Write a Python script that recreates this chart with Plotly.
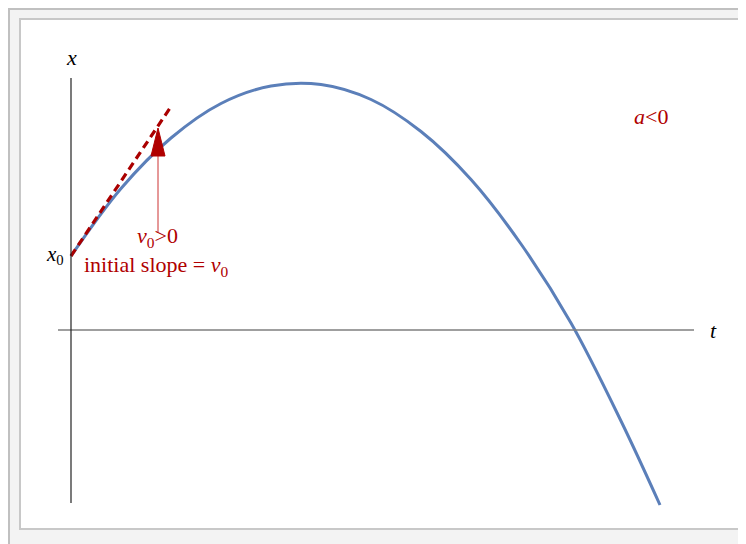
import plotly.graph_objects as go

# Position x(t) (t and x in arbitrary units)
t_vals = [0, 1, 2, 3, 4, 5, 6, 7, 8, 9, 10, 11, 11.78]
x_vals = [1.48, 2.83, 3.84, 4.53, 4.88, 4.91, 4.61, 3.97, 3.01, 1.72, 0.14, -1.82, -3.5]

# Initial-slope tangent line (dashed)
tan_t = [0, 1.98]
tan_x = [1.48, 4.44]

# Arrow (tail -> tip) marking v0 > 0
arrow_t = 1.74
arrow_tail = 1.96
arrow_base = 3.48
arrow_tip = 4.04

RED = "#b00000"
BLUE = "#5b7fb9"
FONT = "Liberation Serif"

W, H = 746, 544
OFF = 8  # page body margin offset

fig = go.Figure()

fig.add_trace(go.Scatter(x=t_vals, y=x_vals, mode="lines",
                         line=dict(color=BLUE, width=3, shape="spline", smoothing=1.0),
                         hoverinfo="skip"))
fig.add_trace(go.Scatter(x=tan_t, y=tan_x, mode="lines",
                         line=dict(color="#aa0000", width=3.2, dash="8px,5px"),
                         hoverinfo="skip"))


def px(xp):
    return (xp - OFF) / W


def py(yp):
    return 1 - (yp - OFF) / H


shapes = [
    # outer frame
    dict(type="rect", xref="paper", yref="paper", x0=px(9), y0=py(580), x1=px(780), y1=py(9),
         line=dict(color="#c0c0c0", width=2), fillcolor="#f3f3f3", layer="below"),
    # inner white panel
    dict(type="rect", xref="paper", yref="paper", x0=px(20), y0=py(529), x1=px(741), y1=py(19),
         line=dict(color="#c8c8c8", width=2), fillcolor="white", layer="below"),
    # t axis
    dict(type="line", x0=-0.26, x1=12.46, y0=0, y1=0, line=dict(color="#7f7f7f", width=1.5)),
    # x axis
    dict(type="line", x0=0, x1=0, y0=-3.46, y1=5.04, line=dict(color="#222222", width=1.2)),
    # arrow shaft
    dict(type="line", x0=arrow_t, x1=arrow_t, y0=arrow_tail, y1=arrow_base,
         line=dict(color="#cc3333", width=1)),
    # arrow head
    dict(type="path",
         path=f"M {arrow_t} {arrow_tip} L {arrow_t - 0.14} {arrow_base} L {arrow_t + 0.14} {arrow_base} Z",
         fillcolor="#b00000", line=dict(color="#b00000", width=1)),
]

annotations = [
    dict(x=0, y=5.46, text="<i>x</i>", showarrow=False, font=dict(family=FONT, size=22, color="black")),
    dict(x=12.84, y=0.0, text="<i>t</i>", showarrow=False, font=dict(family=FONT, size=22, color="black")),
    dict(x=-0.1, y=1.5, text="<i>x</i><sub>0</sub>", showarrow=False, xanchor="right",
         font=dict(family=FONT, size=21, color="black")),
    dict(x=1.72, y=1.86, text="<i>v</i><sub>0</sub>>0", showarrow=False,
         font=dict(family=FONT, size=22, color=RED)),
    dict(x=1.70, y=1.28, text="initial slope = <i>v</i><sub>0</sub>", showarrow=False,
         font=dict(family=FONT, size=22, color=RED)),
    dict(x=11.6, y=4.28, text="<i>a</i><0", showarrow=False,
         font=dict(family=FONT, size=22, color=RED)),
]

fig.update_layout(
    width=W, height=H,
    margin=dict(l=0, r=0, t=0, b=0),
    paper_bgcolor="#f3f3f3", plot_bgcolor="rgba(0,0,0,0)",
    showlegend=False,
    shapes=shapes, annotations=annotations,
    xaxis=dict(range=[-(71 - OFF) / 50, (W - (71 - OFF)) / 50], visible=False, fixedrange=True),
    yaxis=dict(range=[((330 - OFF) - H) / 50, (330 - OFF) / 50], visible=False, fixedrange=True),
)

fig.write_html("out.html", config={"displayModeBar": False})
